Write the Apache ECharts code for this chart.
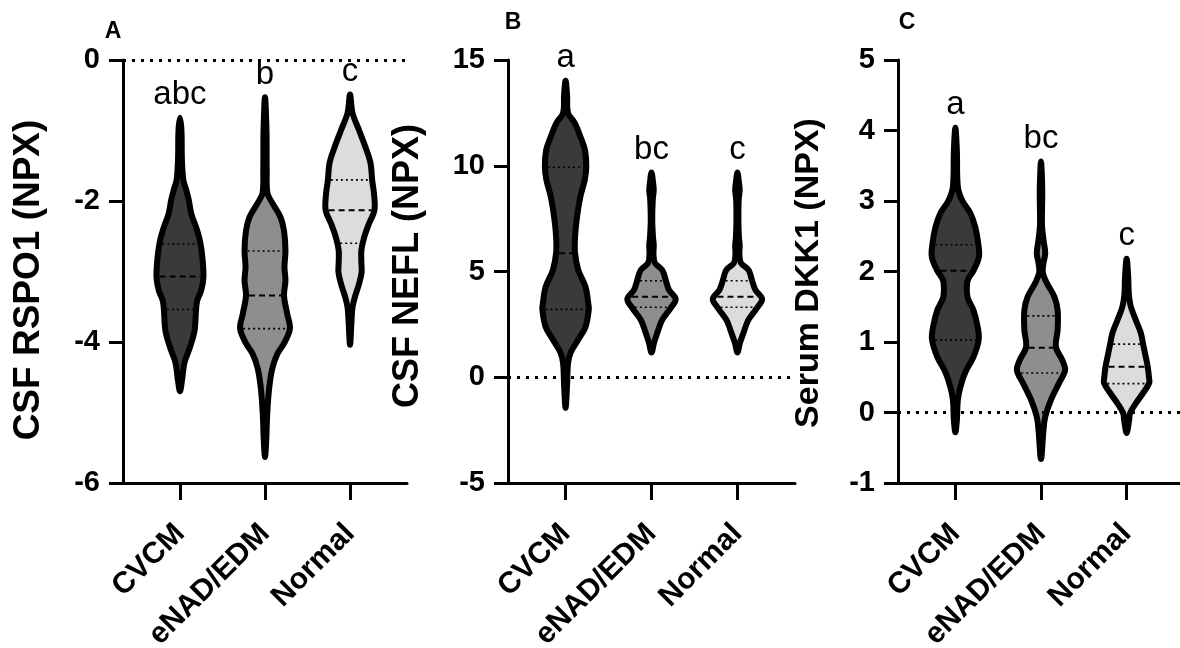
<!DOCTYPE html>
<html>
<head>
<meta charset="utf-8">
<script src="https://cdn.jsdelivr.net/npm/echarts@6/dist/echarts.min.js"></script>
<style>
  html, body { margin: 0; padding: 0; background: #ffffff; }
  #chart { width: 1180px; height: 648px; }
</style>
</head>
<body>
<div id="chart"></div>
<script>
// Groups on every x axis
const groups = ['CVCM', 'eNAD/EDM', 'Normal'];

// Violin outlines: [value, relative density], listed from the top tip to the bottom tip
const rspo1CVCM = [[-0.82,0],[-1.00,0.06],[-1.42,0.08],[-1.71,0.14],[-1.85,0.26],[-1.99,0.36],[-2.18,0.46],[-2.42,0.70],[-2.60,0.83],[-2.84,0.92],[-3.09,0.95],[-3.27,0.86],[-3.41,0.70],[-3.55,0.65],[-3.84,0.59],[-4.08,0.40],[-4.27,0.20],[-4.41,0.13],[-4.55,0.08],[-4.70,0]];
const rspo1ENAD = [[-0.53,0],[-1.00,0.06],[-1.56,0.07],[-1.89,0.10],[-2.03,0.30],[-2.23,0.63],[-2.42,0.77],[-2.70,0.83],[-2.94,0.79],[-3.13,0.83],[-3.34,0.77],[-3.60,0.90],[-3.81,1.01],[-4.02,0.77],[-4.17,0.50],[-4.37,0.30],[-4.65,0.17],[-5.02,0.09],[-5.40,0.05],[-5.63,0]];
const rspo1Normal = [[-0.49,0],[-0.75,0.10],[-1.00,0.37],[-1.24,0.63],[-1.46,0.83],[-1.71,0.90],[-1.89,0.97],[-2.13,0.99],[-2.32,0.77],[-2.52,0.57],[-2.70,0.46],[-2.87,0.46],[-3.01,0.47],[-3.17,0.37],[-3.37,0.19],[-3.51,0.10],[-3.70,0.06],[-4.04,0]];

const neflCVCM = [[14.02,0],[13.35,0.06],[12.49,0.10],[12.02,0.37],[11.36,0.60],[10.74,0.78],[9.94,0.83],[9.33,0.77],[8.52,0.59],[7.58,0.46],[6.63,0.38],[5.87,0.38],[5.07,0.51],[4.27,0.80],[3.51,0.91],[3.18,0.93],[2.38,0.80],[1.76,0.50],[1.15,0.20],[0.67,0.10],[-0.37,0.06],[-1.45,0]];
const neflENAD = [[9.68,0],[9.23,0.06],[8.85,0.09],[8.38,0.05],[7.43,0.03],[6.63,0.06],[6.25,0.09],[5.78,0.08],[5.40,0.14],[5.07,0.43],[4.60,0.57],[4.13,0.70],[3.70,0.97],[3.27,0.77],[2.71,0.43],[2.09,0.23],[1.62,0.10],[1.17,0]];
const neflNormal = [[9.68,0],[9.23,0.06],[8.85,0.09],[8.38,0.05],[7.43,0.04],[6.63,0.06],[6.25,0.09],[5.78,0.08],[5.40,0.14],[5.07,0.45],[4.60,0.58],[4.13,0.72],[3.70,0.99],[3.27,0.78],[2.71,0.44],[2.09,0.24],[1.62,0.10],[1.17,0]];

const dkk1CVCM = [[4.04,0],[3.72,0.06],[3.20,0.10],[3.01,0.27],[2.83,0.60],[2.63,0.80],[2.40,0.92],[2.21,0.95],[2.02,0.74],[1.88,0.50],[1.74,0.46],[1.62,0.50],[1.45,0.73],[1.21,0.90],[1.03,0.94],[0.79,0.73],[0.57,0.40],[0.36,0.20],[0.18,0.10],[-0.11,0.06],[-0.28,0]];
const dkk1ENAD = [[3.56,0],[3.16,0.05],[2.66,0.04],[2.45,0.10],[2.26,0.17],[2.12,0.10],[1.99,0.07],[1.84,0.23],[1.64,0.54],[1.45,0.67],[1.17,0.67],[0.93,0.60],[0.74,0.86],[0.60,0.97],[0.42,0.73],[0.18,0.40],[-0.06,0.17],[-0.25,0.10],[-0.66,0]];
const dkk1Normal = [[2.18,0],[1.95,0.06],[1.74,0.08],[1.64,0.10],[1.50,0.17],[1.31,0.37],[1.13,0.57],[0.96,0.67],[0.79,0.77],[0.65,0.85],[0.50,0.90],[0.42,0.91],[0.28,0.67],[0.13,0.37],[-0.01,0.14],[-0.11,0.10],[-0.29,0]];

// Quartiles per group: [25th percentile, median, 75th percentile]
const rspo1Quartiles = [[-3.54,-3.07,-2.61],[-3.81,-3.34,-2.71],[-2.60,-2.13,-1.70]];
const neflQuartiles = [[3.21,5.86,9.93],[3.31,3.81,4.56],[3.31,3.81,4.56]];
const dkk1Quartiles = [[1.03,2.01,2.38],[0.56,0.92,1.37],[0.41,0.65,0.97]];

// Compact letter display above each violin
const rspo1Letters = ['abc', 'b', 'c'];
const neflLetters = ['a', 'bc', 'c'];
const dkk1Letters = ['a', 'bc', 'c'];

// Y axis ranges and ticks: [min, max, interval]
const rspo1Ticks = [-6, 0, 2];
const neflTicks = [-5, 15, 5];
const dkk1Ticks = [-1, 5, 1];

// ---- styling ----
const FONT = '"Liberation Sans", Arial, Helvetica, sans-serif';
const groupFills = ['#3a3a3a', '#8e8e8e', '#dcdcdc'];
const DENSITY_WIDTH = 0.29;   // half width (in group units) for a density of 1
const OUTLINE = 6;

const panels = [
  { grid: { left: 123, top: 60, width: 284, height: 423 }, profiles: [rspo1CVCM, rspo1ENAD, rspo1Normal], quartiles: rspo1Quartiles, letters: rspo1Letters, ticks: rspo1Ticks,
    title: 'CSF RSPO1 (NPX)', titleSize: 37, titlePos: [29, 280], tag: 'A', tagPos: [113, 32] },
  { grid: { left: 508, top: 60, width: 287, height: 423 }, profiles: [neflCVCM, neflENAD, neflNormal], quartiles: neflQuartiles, letters: neflLetters, ticks: neflTicks,
    title: 'CSF NEFL (NPX)', titleSize: 36, titlePos: [408, 266], tag: 'B', tagPos: [513, 23] },
  { grid: { left: 898, top: 60, width: 286, height: 423 }, profiles: [dkk1CVCM, dkk1ENAD, dkk1Normal], quartiles: dkk1Quartiles, letters: dkk1Letters, ticks: dkk1Ticks,
    title: 'Serum DKK1 (NPX)', titleSize: 34, titlePos: [809, 273], tag: 'C', tagPos: [907, 23] }
];

// half width of a profile at a given value (profiles run from high to low values)
function densityAt(profile, v) {
  for (let k = 0; k < profile.length - 1; k++) {
    const [v0, d0] = profile[k], [v1, d1] = profile[k + 1];
    if (v <= v0 && v >= v1) {
      const t = (v0 - v) / (v0 - v1 || 1);
      return d0 + (d1 - d0) * t;
    }
  }
  return 0;
}

function violinSeries(idx, panel) {
  return {
    type: 'custom',
    xAxisIndex: idx,
    yAxisIndex: idx,
    clip: false,
    data: panel.profiles.map((p, i) => [i + 1, p[0][0]]),
    renderItem: function (params, api) {
      const i = params.dataIndex;
      const cat = api.value(0);
      const profile = panel.profiles[i];
      const unit = api.size([1, 0])[0];
      const cx = api.coord([cat, 0])[0];
      const half = d => d * DENSITY_WIDTH * unit;
      const yOf = v => api.coord([cat, v])[1];

      const leftSide = [], rightSide = [];
      profile.forEach(([v, d], k) => {
        if (k === 0 || k === profile.length - 1) return;
        const y = yOf(v);
        leftSide.push([cx - half(d), y]);
        rightSide.push([cx + half(d), y]);
      });
      const top = [cx, yOf(profile[0][0])];
      const bottom = [cx, yOf(profile[profile.length - 1][0])];
      const points = [top].concat(leftSide, [bottom], rightSide.reverse());

      const children = [{
        type: 'polygon',
        shape: { points: points, smooth: 0.35 },
        style: { fill: groupFills[i], stroke: '#000', lineWidth: OUTLINE, lineJoin: 'round' }
      }];

      panel.quartiles[i].forEach((q, k) => {
        const w = Math.max(half(densityAt(profile, q)) - OUTLINE / 2, 1);
        const y = yOf(q);
        children.push({
          type: 'line',
          shape: { x1: cx - w, y1: y, x2: cx + w, y2: y },
          style: k === 1
            ? { stroke: '#000', lineWidth: 2, lineDash: [6, 4] }
            : { stroke: '#000', lineWidth: 1.6, lineDash: [2, 3] }
        });
      });

      children.push({
        type: 'text',
        x: cx,
        y: yOf(profile[0][0]) - 6,
        style: { text: panel.letters[i], font: '33px ' + FONT, fill: '#000', align: 'center', verticalAlign: 'bottom' }
      });

      return { type: 'group', children: children };
    },
    markLine: {
      silent: true,
      symbol: 'none',
      label: { show: false },
      lineStyle: { color: '#000', width: 3, type: [3, 6] },
      data: [{ yAxis: 0 }]
    },
    z: 3
  };
}

const axisLineStyle = { color: '#000', width: 3 };

const option = {
  backgroundColor: '#ffffff',
  animation: false,
  grid: panels.map(p => Object.assign({ containLabel: false, outerBoundsMode: 'none' }, p.grid)),
  xAxis: panels.map((p, idx) => ({
    gridIndex: idx,
    type: 'value',
    min: 0.33,
    max: 3.67,
    axisLine: { show: true, onZero: false, lineStyle: axisLineStyle },
    axisTick: { show: true, length: 17, customValues: [1, 2, 3], lineStyle: axisLineStyle },
    axisLabel: {
      customValues: [1, 2, 3],
      formatter: v => groups[Math.round(v) - 1] || '',
      rotate: 45,
      margin: 46,
      fontSize: 30,
      fontWeight: 'bold',
      fontFamily: FONT,
      color: '#000'
    },
    splitLine: { show: false }
  })),
  yAxis: panels.map((p, idx) => ({
    gridIndex: idx,
    type: 'value',
    min: p.ticks[0],
    max: p.ticks[1],
    interval: p.ticks[2],
    axisLine: { show: true, onZero: false, lineStyle: axisLineStyle },
    axisTick: { show: true, length: 14, lineStyle: axisLineStyle },
    axisLabel: { margin: 23, fontSize: 29, fontWeight: 'bold', fontFamily: FONT, color: '#000' },
    splitLine: { show: false }
  })),
  graphic: panels.flatMap(p => [
    {
      type: 'text',
      x: p.titlePos[0],
      y: p.titlePos[1],
      rotation: Math.PI / 2,
      style: { text: p.title, font: 'bold ' + p.titleSize + 'px ' + FONT, fill: '#000', align: 'center', verticalAlign: 'middle' }
    },
    {
      type: 'text',
      x: p.tagPos[0],
      y: p.tagPos[1],
      style: { text: p.tag, font: 'bold 23px ' + FONT, fill: '#000', align: 'center', verticalAlign: 'middle' }
    }
  ]),
  series: panels.map((p, idx) => violinSeries(idx, p))
};

const chart = echarts.init(document.getElementById('chart'), null, { renderer: 'canvas' });
chart.setOption(option);
</script>
</body>
</html>
